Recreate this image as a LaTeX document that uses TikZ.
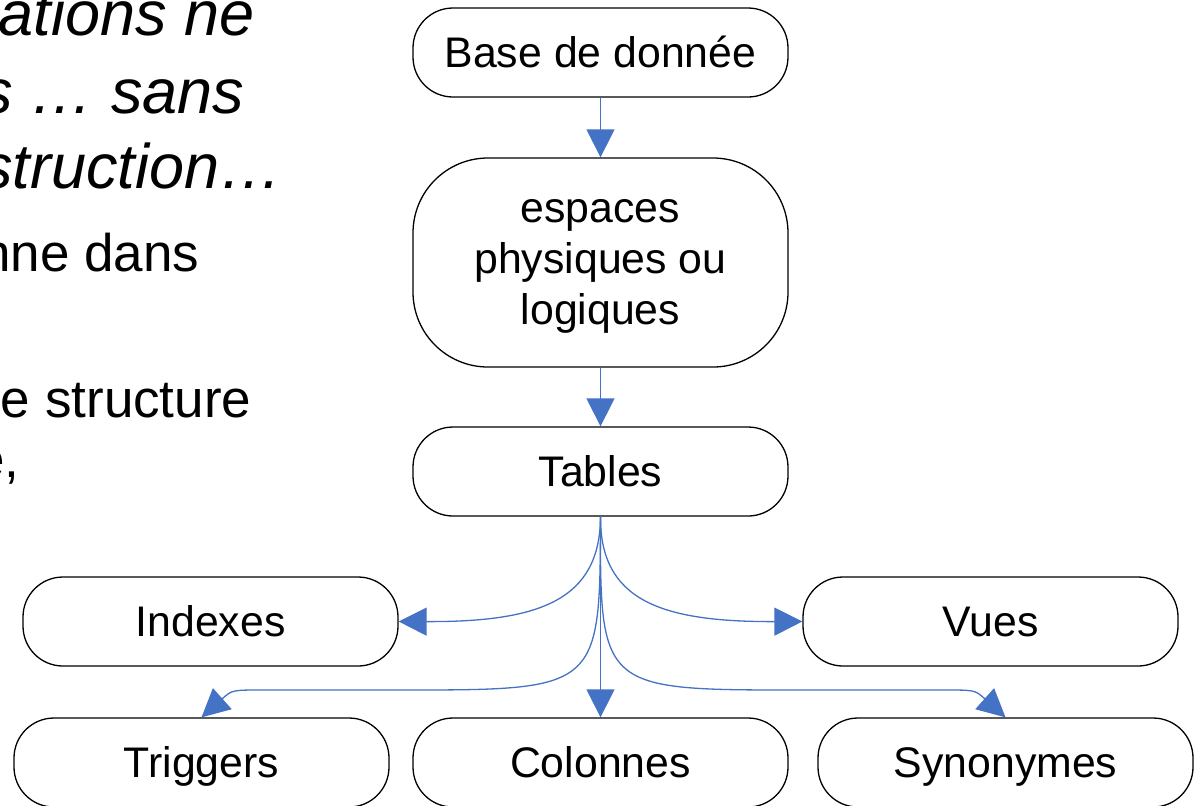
\documentclass[tikz,border=0pt]{standalone}
\usepackage{fontspec}
\setmainfont{Liberation Sans}
\usetikzlibrary{arrows.meta}
\definecolor{linkblue}{HTML}{4472C4}

\begin{document}
\begin{tikzpicture}[x=0.5pt, y=-0.5pt, line width=0.65pt, node distance=105pt]
    \tikzstyle{box}=[draw=black, rectangle, rounded corners=20pt, minimum width=187.5pt, minimum height=44.5pt, inner sep=0pt, font=\fontsize{21.4}{25.5}\selectfont, text height=19.3pt, text depth=3.85pt]
    \tikzstyle{big box}=[box, rounded corners=37.5pt, minimum height=104.5pt, align=center, text height=, text depth=]
    \tikzstyle{link}=[draw=linkblue, -{Triangle[length=14pt,width=14pt]}]
    \tikzstyle{slide text}=[anchor=base east, inner sep=0pt, font=\fontsize{26.5}{32}\selectfont]
    \tikzstyle{slide title}=[slide text, font=\fontsize{31.5}{38}\selectfont\itshape]

    \useasboundingbox (0,0) rectangle (1199,805);
    \clip (0,0) rectangle (1199,805);

    % Slide text cut by the left edge
    \node[slide title] (t1) at (255,35) {ations ne};
    \node[slide title] (t2) at (245,113) {s … sans};
    \node[slide title] (t3) at (283,188) {struction…};
    \node[slide text] (t4) at (200,271) {nne dans};
    \node[slide text] (t5) at (252,417) {e structure};
    \node[slide text] (t6) at (20,477) {e,};

    % Draw the main chain
    \node[box] (base) at (600.5,52.5) {Base de donnée};
    \node[big box, below of=base] (esp) {\rule{0pt}{15pt}espaces\\physiques ou\\logiques};
    \node[box, below of=esp, node distance=104.5pt] (tab) {Tables};
    \node[box, below of=tab, node distance=145.5pt] (col) {Colonnes};

    % Draw the other objects
    \node[box] (idx) at (210.5,621.5) {Indexes};
    \node[box] (vues) at (990.5,621.5) {Vues};
    \node[box] (trig) at (201.5,762.5) {Triggers};
    \node[box] (syn) at (1005.5,762.5) {Synonymes};

    % Straight links
    \foreach \source / \dest in {base/esp, esp/tab, tab/col}
        \draw[link] (\source.south) -- (\dest.north);

    % Curved links out of the tables
    \draw[link] (tab.south) .. controls (600,600) and (540,622) .. (idx.east);
    \draw[link] (tab.south) .. controls (600,600) and (660,622) .. (vues.west);
    \draw[link] (tab.south) .. controls (600,690) .. (400,690) -- (262,690) .. controls (232,690) .. (trig.north);
    \draw[link] (tab.south) .. controls (600,690) .. (800,690) -- (945,690) .. controls (975,690) .. (syn.north);
\end{tikzpicture}
\end{document}
